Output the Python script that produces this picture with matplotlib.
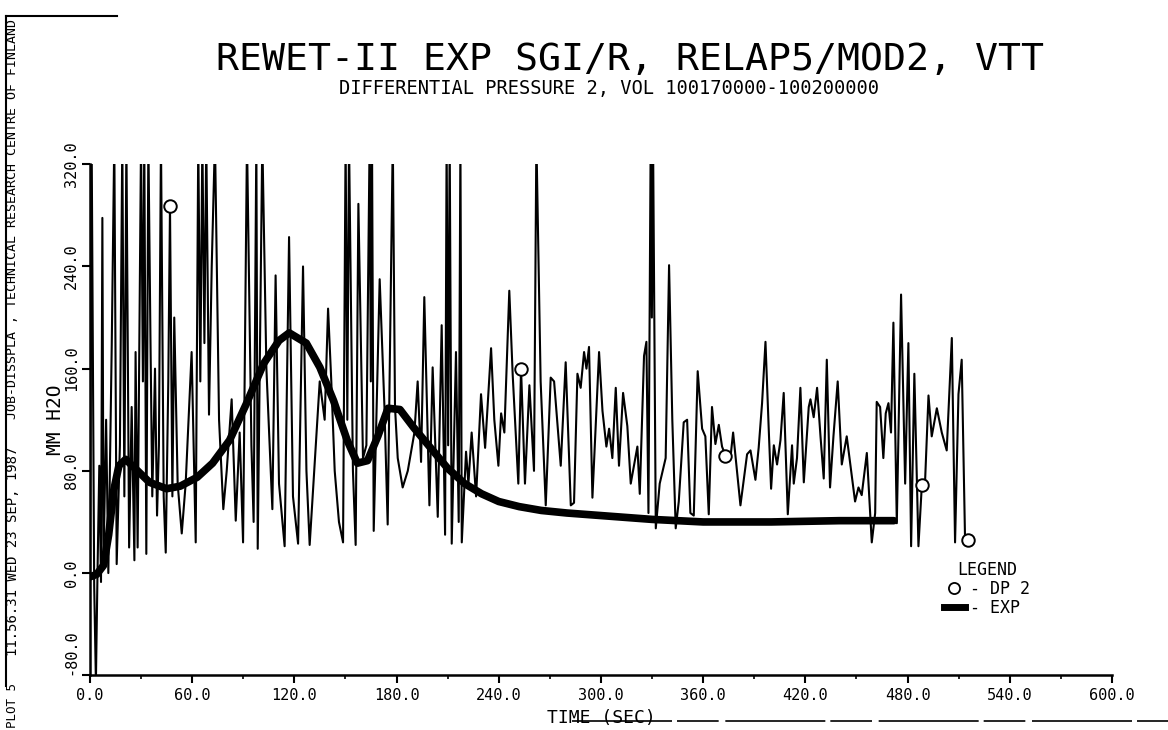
import numpy as np
import matplotlib
matplotlib.use("Agg")
import matplotlib.pyplot as plt
from matplotlib.lines import Line2D
from matplotlib.ticker import MultipleLocator

# DP 2 (calculated), time [s] and differential pressure [mm H2O]
dp2_t = [0.0, 1.0, 2.5, 3.5, 4.5, 5.5, 6.5, 7.3, 8.0, 9.5, 10.8, 12.8, 14.3, 15.7,
         17.6, 19.0, 20.2, 21.4, 23.0, 24.5, 26.1, 26.8, 28.0, 30.0, 31.1, 31.9,
         33.1, 34.3, 35.5, 36.6, 38.2, 39.4, 40.5, 41.7, 43.3, 44.5, 46.0, 47.0,
         48.4, 49.5, 51.5, 53.9, 56.2, 59.7, 62.1, 63.6, 64.8, 66.0, 67.2, 68.3,
         69.9, 71.5, 73.4, 75.8, 78.3, 80.3, 83.2,
         85.6, 87.9, 89.9, 92.2, 94.8, 96.1, 97.7, 98.5, 101.2, 103.6, 107.1,
         109.0, 111.0, 114.3, 116.9, 119.2, 122.2, 125.1, 127.1, 129.0, 134.9,
         137.8, 139.8, 141.7, 143.7, 146.2, 148.6, 150.1, 151.1, 152.1, 154.4,
         156.0, 157.6, 160.3, 162.3, 164.2, 164.9, 165.6, 166.6, 170.1,
         172.9, 174.8, 176.4, 177.8, 179.1, 180.7, 183.6, 186.6, 190.5, 192.4,
         194.4, 196.3, 199.3, 201.2, 204.2, 206.5, 208.5, 209.4, 210.3, 211.2,
         212.4, 214.9, 216.5, 217.5, 218.3, 220.8, 222.2, 224.1, 226.7, 229.6,
         232.0, 235.5, 237.4, 239.8, 241.4, 243.3, 246.2, 248.2, 251.5, 253.1,
         255.4, 258.0,
         260.7, 262.1, 264.6, 267.6, 270.5, 272.5, 276.4, 279.3, 282.3, 284.2,
         286.2, 288.1, 290.1, 291.5, 293.0, 295.0, 298.9, 300.9, 303.2, 304.8,
         306.7, 308.7, 310.6, 313.0, 315.5, 317.5, 319.4, 321.4, 322.8, 325.3,
         326.7, 327.9, 329.2, 329.9, 330.6, 332.2, 334.5, 338.0, 340.0, 341.9,
         343.9,
         345.7, 348.6, 350.6, 352.5, 354.5, 356.8, 359.4, 361.3, 363.3, 365.2,
         367.2, 369.2, 371.1, 373.1, 376.0, 377.6, 381.9, 385.8, 387.8, 390.7,
         392.6, 394.6, 396.6, 398.5, 399.9, 401.5, 403.4, 405.4, 407.3, 409.7,
         412.2, 413.2, 415.1, 417.1, 419.1, 422.0, 423.0, 424.9, 426.9, 428.9,
         430.8,
         432.6, 434.5, 436.5, 439.0, 441.4, 444.3, 447.3, 449.2, 451.2, 453.1,
         456.1, 459.0, 461.0, 461.9, 463.9, 465.8, 467.2, 468.8, 470.3, 471.7,
         473.7, 476.2, 478.6, 480.5, 482.1, 484.0, 486.4, 488.4, 490.3, 492.3,
         494.2, 497.2, 500.1, 503.0, 506.0, 507.9, 509.9, 511.8, 513.8, 515.4]
dp2_v = [-2, 340, -10, -85, 5, 84, -7, 278, 13, 120, 0, 178, 340, 7,
         100, 340, 60, 340, 20, 130, 10, 173, 20, 340, 150, 340,
         15, 340, 187, 60, 160, 45, 100, 340, 60, 16, 150, 287,
         60, 200, 70, 31, 70, 173, 24, 340, 150, 340, 180, 340,
         124, 240, 340, 120, 50, 80, 136,
         41, 110, 24, 340, 100, 40, 340, 19, 340, 160, 50,
         233, 70, 21, 263, 60, 23, 240, 80, 22, 150,
         120, 207, 150, 80, 40, 24, 340, 120, 340, 80,
         22, 289, 90, 100, 340, 150, 340, 33, 230,
         130, 38, 200, 340, 130, 90, 67, 80, 110, 150,
         87, 216, 53, 161, 44, 194, 30, 340, 100, 340,
         23, 173, 40, 340, 24, 95, 70, 110, 60, 140,
         98, 176, 120, 84, 125, 110, 221, 155, 70, 160,
         70, 147,
         80, 340, 150, 53, 153, 150, 84, 165, 53, 55,
         156, 145, 173, 160, 177, 59, 173, 127, 99, 113,
         90, 145, 84, 141, 115, 70, 84, 99, 62, 170,
         181, 47, 340, 200, 340, 35, 70, 90, 241, 120,
         35,
         56, 118, 120, 47, 45, 158, 113, 107, 46, 130,
         101, 116, 99, 92, 90, 110, 53, 93, 96, 73,
         98, 133, 181, 113, 66, 100, 85, 104, 141, 46,
         100, 70, 90, 145, 71, 130, 136, 122, 145, 107,
         74,
         167, 67, 107, 150, 85, 107, 76, 56, 67, 61,
         94, 24, 47, 134, 130, 90, 125, 133, 110, 196,
         39, 218, 70, 180, 21, 156, 21, 69, 72, 139,
         107, 129, 110, 96, 184, 24, 140, 167, 24, 26]
dp2_mark_t = [47.0, 253.1, 373.1, 488.4, 515.4]

# EXP (measured)
exp_t = [0, 4, 8, 11, 14, 17, 21, 28, 35, 45, 53, 63, 72, 82, 92, 102, 111, 117,
         127, 135, 143, 151, 157, 163, 169, 175, 182, 190, 200, 210, 220, 230,
         240, 252, 265, 280, 300, 330, 360, 400, 440, 472]
exp_v = [-3, -1, 6, 30, 65, 84, 89, 80, 71, 66, 68, 75, 86, 104, 133, 164, 182, 188,
         180, 161, 135, 104, 86, 88, 107, 129, 128, 114, 98, 82, 70, 62,
         56, 52, 49, 47, 45, 42, 40, 40, 41, 41]

xticks = [0, 60, 120, 180, 240, 300, 360, 420, 480, 540, 600]
yticks = [-80, 0, 80, 160, 240, 320]

plt.rcParams['font.family'] = "DejaVu Sans Mono"

fig = plt.figure(figsize=(11.68, 7.30), dpi=100)
ax = fig.add_axes([0.077, 0.075, 0.875, 0.700])

mark_idx = [i for i, t in enumerate(dp2_t) if t in dp2_mark_t]
ax.plot(dp2_t, dp2_v, color='black', lw=1.5, marker='o', markevery=mark_idx,
        ms=9, mfc='white', mec='black', mew=1.4, zorder=2)
ax.plot(exp_t, exp_v, color='black', lw=5.5, solid_capstyle='round',
        solid_joinstyle='round', zorder=3)

ax.set_xlim(0, 600)
ax.set_ylim(-80, 320)
ax.set_xticks(xticks)
ax.set_xticklabels([f"{v:.1f}" for v in xticks])
ax.set_yticks(yticks)
ylabels = ax.set_yticklabels([f"{v:.1f}" for v in yticks], rotation=90, va='center')
ylabels[0].set_va('bottom')
ax.xaxis.set_minor_locator(MultipleLocator(30))
ax.tick_params(which='major', direction='out', length=6, width=1.5, labelsize=11)
ax.tick_params(axis='y', pad=2)
ax.tick_params(which='minor', direction='out', length=3, width=1.2)
for s in ('top', 'right'):
    ax.spines[s].set_visible(False)
for s in ('left', 'bottom'):
    ax.spines[s].set_linewidth(1.8)
ax.set_xlabel("TIME (SEC)", fontsize=13, labelpad=4)
ax.set_ylabel("MM H2O", fontsize=14, labelpad=-1)

fig.text(0.539, 0.918, "REWET-II EXP SGI/R, RELAP5/MOD2, VTT", fontsize=27.5,
         ha='center', va='center')
fig.text(0.521, 0.879, "DIFFERENTIAL PRESSURE 2, VOL 100170000-100200000",
         fontsize=13.5, ha='center', va='center')

handles = [Line2D([], [], ls='none', marker='o', ms=8, mfc='white', mec='black', mew=1.3),
           Line2D([], [], color='black', lw=5)]
fig.legend(handles, ["- DP 2", "- EXP"], title="LEGEND", loc='upper center',
           bbox_to_anchor=(0.845, 0.245), frameon=False, fontsize=12,
           title_fontsize=12, handlelength=1.3, handletextpad=0.3,
           labelspacing=0.05, borderpad=0.1)

# plotter frame and job stamp on the left edge
fig.add_artist(Line2D([0.005, 0.005], [0.06, 0.978], color='black', lw=1.5))
fig.add_artist(Line2D([0.005, 0.10], [0.978, 0.978], color='black', lw=1.5))
fig.add_artist(Line2D([0.49, 1.0], [0.012, 0.012], color='black', lw=1.2,
                      ls=(0, (60, 3, 25, 4))))
fig.text(0.011, 0.034, "PLOT 5", rotation=90, fontsize=9, ha='center', va='center')
fig.text(0.011, 0.245, "11.56.31 WED 23 SEP, 1987", rotation=90, fontsize=10,
         ha='center', va='center')
fig.text(0.011, 0.70, "JOB-DISSPLA , TECHNICAL RESEARCH CENTRE OF FINLAND",
         rotation=90, fontsize=9.5, ha='center', va='center')

fig.savefig("out.png", dpi=100)
